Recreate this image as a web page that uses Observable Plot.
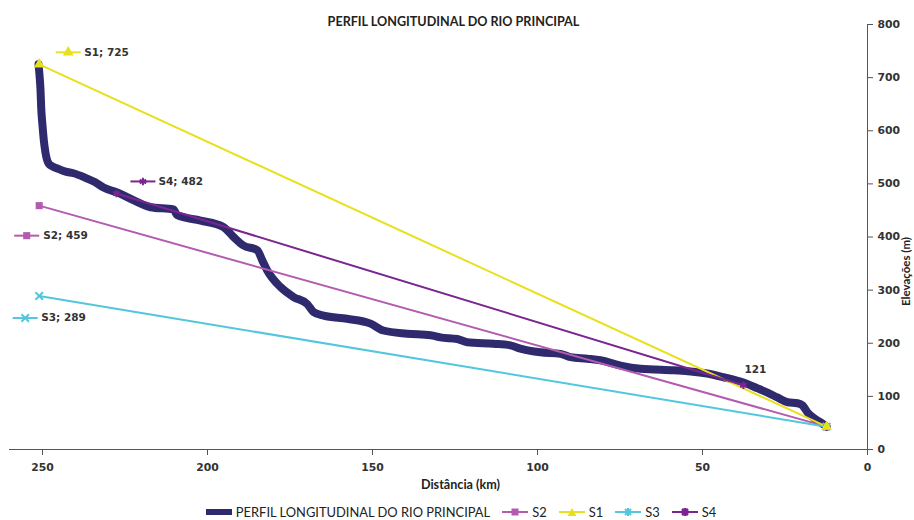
<!DOCTYPE html>
<html><head><meta charset="utf-8">
<script src="https://cdn.jsdelivr.net/npm/d3@7"></script>
<script src="https://cdn.jsdelivr.net/npm/@observablehq/plot@0.6"></script>
<style>
body{margin:0;background:#fff;}
#wrap{position:relative;width:914px;height:520px;overflow:hidden;background:#fff;}
#legend{position:absolute;left:0;top:503px;width:914px;height:18px;display:flex;justify-content:center;align-items:center;font-family:Lato,"Open Sans",sans-serif;font-size:12.9px;color:#222;padding-left:8px;box-sizing:border-box;}
#legend .item{display:flex;align-items:center;margin:0 6px;}
#legend svg{margin-right:4px;}
</style></head>
<body><div id="wrap"><div id="chart"></div><div id="legend"></div></div>
<script>
// Main river profile (distance km, elevation m)
const profileKm = [251.2,250.9,250.6,250.4,250.0,249.6,249.1,248.1,247.0,245.5,243.0,240.6,236.5,234.0,231.5,227.4,222.3,217.3,210.3,209.2,202.1,195.2,192.1,189.1,184.9,183.4,181.9,177.9,173.9,169.8,167.9,164.8,157.7,150.6,146.7,139.5,132.4,129.4,124.3,121.3,113.3,108.2,105.2,99.1,93.0,90.0,84.9,80.9,74.8,68.8,58.8,53.6,48.6,43.6,37.6,33.3,30.3,27.3,24.2,21.2,19.7,18.2,16.4,14.2,12.4];
const profileElev = [725,704,676,644,610,582,559,538,533,529,523,520,510,503,493,484,469,456,452,441,431,419,400,384,375,356,337,306,287,274,259,252,246,237,224,218,215,211,208,202,199,196,190,183,180,174,171,168,158,152,149,147,143,136,126,115,107,98,89,87,83,70,60,51,43];

// Slope lines
const seriesNames = ["S1","S2","S3","S4"];
const seriesColors = ["#e8e01c","#b35caf","#52c6dd","#7b2590"];
const s1Km = [251,12.4],  s1Elev = [725,43];
const s2Km = [251,12.4],  s2Elev = [459,43];
const s3Km = [251,12.4],  s3Elev = [289,43];
const s4Km = [227.6,37.6], s4Elev = [482,121];

const xTicks = [250,200,150,100,50,0];
const yTicks = [0,100,200,300,400,500,600,700,800];

const titleText = "PERFIL LONGITUDINAL DO RIO PRINCIPAL";
const xLabel = "Distância (km)";
const yLabel = "Elevações (m)";
const profileColor = "#2e2a6d";

const profile = profileKm.map((d,i)=>({x:d,y:profileElev[i]}));
const mk = (k,e)=>k.map((d,i)=>({x:d,y:e[i]}));
const s1 = mk(s1Km,s1Elev), s2 = mk(s2Km,s2Elev), s3 = mk(s3Km,s3Elev), s4 = mk(s4Km,s4Elev);

const keyLine = {draw(ctx){ctx.moveTo(-12.5,0);ctx.lineTo(12.5,0);}};
const symbols = ["triangle","square","times","asterisk"];

function dataLabel(pt, i, dx, dy, tdx){
  const col = seriesColors[i];
  return [
    Plot.dot([pt], {x:"x", y:"y", symbol:keyLine, r:4, stroke:col, strokeWidth:2, fill:"none", dx, dy}),
    (symbols[i]==="times"||symbols[i]==="asterisk")
      ? Plot.dot([pt], {x:"x", y:"y", symbol:symbols[i], r:3.5, stroke:col, strokeWidth:2, dx, dy})
      : Plot.dot([pt], {x:"x", y:"y", symbol:symbols[i], r:4, fill:col, stroke:"none", dx, dy}),
    Plot.text([pt], {x:"x", y:"y", text:d=>`${seriesNames[i]}; ${d.y}`, textAnchor:"start", dx:tdx, dy, fontFamily:"DejaVu Sans", fontWeight:"bold", fontSize:10.5, fill:"#333"})
  ];
}
function markers(data, i){
  const s = symbols[i], col = seriesColors[i];
  return (s==="times"||s==="asterisk")
    ? Plot.dot(data, {x:"x", y:"y", symbol:s, r:3.5, stroke:col, strokeWidth:2})
    : Plot.dot(data, {x:"x", y:"y", symbol:s, r:4, fill:col, stroke:"none"});
}

const chart = Plot.plot({
  width:914, height:500,
  marginLeft:9, marginRight:47, marginTop:24, marginBottom:51,
  x:{domain:[260,0]},
  y:{domain:[0,800]},
  style:{fontFamily:"DejaVu Sans", fontSize:"10.8px", fontWeight:"bold", color:"#333", background:"#fff"},
  marks:[
    Plot.ruleY([0], {stroke:"#555", strokeWidth:1}),
    Plot.ruleX([0], {stroke:"#555", strokeWidth:1}),
    Plot.axisX({ticks:xTicks, tickSize:6, tickPadding:8, label:null, stroke:"#555", fill:"#333", fontWeight:"bold"}),
    Plot.axisY({anchor:"right", ticks:yTicks, tickSize:5, tickPadding:5, label:null, stroke:"#555", fill:"#333", fontWeight:"bold"}),
    Plot.line(profile, {x:"x", y:"y", stroke:profileColor, strokeWidth:8, curve:"monotone-x"}),
    Plot.line(s2, {x:"x", y:"y", stroke:seriesColors[1], strokeWidth:2}),
    Plot.line(s3, {x:"x", y:"y", stroke:seriesColors[2], strokeWidth:2}),
    Plot.line(s1, {x:"x", y:"y", stroke:seriesColors[0], strokeWidth:2}),
    Plot.line(s4, {x:"x", y:"y", stroke:seriesColors[3], strokeWidth:2}),
    markers(s2,1), markers(s3,2), markers(s1,0), markers(s4,3),
    dataLabel(s1[0],0,29,-12,45),
    dataLabel(s2[0],1,-12.5,30,4),
    dataLabel(s3[0],2,-14,22,2),
    dataLabel(s4[0],3,26.5,-12,42),
    Plot.text([s4[1]], {x:"x", y:"y", text:d=>`${d.y}`, dx:12, dy:-16, fontFamily:"DejaVu Sans", fontWeight:"bold", fontSize:10.5, fill:"#333"}),
    Plot.text([titleText], {frameAnchor:"top", dx:15, dy:-7, fontFamily:"Lato", fontWeight:"bold", fontSize:12.6, fill:"#222"}),
    Plot.text([xLabel], {frameAnchor:"bottom", dx:22, dy:39, fontFamily:"Lato", fontWeight:"bold", fontSize:12.6, fill:"#222"}),
    Plot.text([yLabel], {frameAnchor:"right", dx:39, dy:0, rotate:-90, fontFamily:"Lato", fontWeight:"bold", fontSize:11.5, fill:"#222"})
  ]
});
document.getElementById("chart").appendChild(chart);

// Legend
const legend = document.getElementById("legend");
const ns = "http://www.w3.org/2000/svg";
function sw(kind, col, sym){
  const s = document.createElementNS(ns,"svg");
  s.setAttribute("width", 26); s.setAttribute("height", 10);
  if(kind==="rect"){
    s.innerHTML = `<rect x="0" y="2" width="26" height="6" fill="${col}"/>`;
  } else {
    let m = "";
    if(sym==="square") m = `<rect x="9.5" y="1.5" width="7" height="7" fill="${col}"/>`;
    if(sym==="triangle") m = `<path d="M13,1 L17.5,9 L8.5,9 Z" fill="${col}"/>`;
    if(sym==="times") m = `<path d="M10,2 L16,8 M16,2 L10,8 M13,1 L13,9" stroke="${col}" stroke-width="2"/>`;
    if(sym==="asterisk") m = `<path d="M10,2 L16,8 M16,2 L10,8 M13,1 L13,9" stroke="${col}" stroke-width="2.5"/>`;
    s.innerHTML = `<line x1="0" y1="5" x2="26" y2="5" stroke="${col}" stroke-width="2"/>${m}`;
  }
  return s;
}
function addItem(svg, label){
  const d = document.createElement("div"); d.className="item";
  d.appendChild(svg); const t = document.createElement("span"); t.textContent = label; d.appendChild(t);
  legend.appendChild(d);
}
addItem(sw("rect", profileColor), titleText);
[1,0,2,3].forEach(i=>addItem(sw("line", seriesColors[i], symbols[i]), seriesNames[i]));
</script>
</body></html>
